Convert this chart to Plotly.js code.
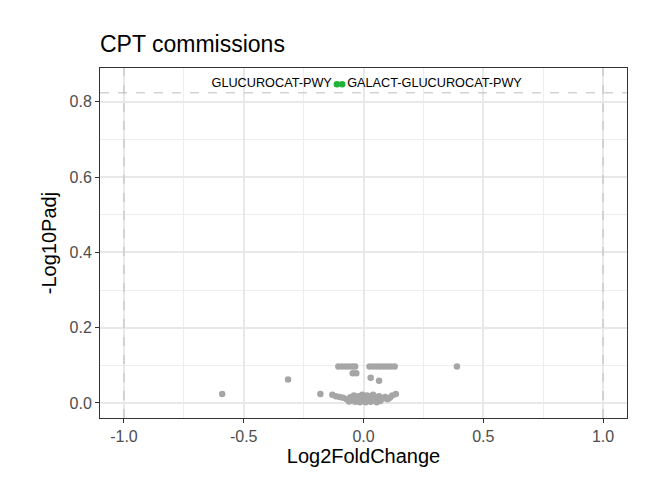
<!DOCTYPE html>
<html>
<head>
<meta charset="utf-8">
<script src="https://cdn.plot.ly/plotly-3.0.1.min.js"></script>
<style>
  body { margin: 0; padding: 0; background: #fff; }
  #plot { width: 661px; height: 501px; }
</style>
</head>
<body>
<div id="plot"></div>
<script>
// not significant pathways (grey)
var nsFold = [-0.59, -0.315, -0.18, 0.39,
  -0.105, -0.09, -0.075, -0.06, -0.045, -0.035,
  0.025, 0.04, 0.055, 0.07, 0.085, 0.1, 0.115, 0.13,
  -0.045, -0.03, 0.03, 0.065,
  -0.13, -0.115, -0.10, -0.085, -0.07, -0.06, -0.055, -0.045, -0.04, -0.035,
  -0.03, -0.025, -0.02, -0.015, -0.01, -0.005, 0.0, 0.005, 0.01, 0.015,
  0.02, 0.025, 0.03, 0.035, 0.04, 0.045, 0.05, 0.055, 0.06, 0.065,
  0.07, 0.08, 0.09, 0.1, 0.11, 0.12, 0.135];
var nsPadj = [0.024, 0.062, 0.024, 0.097,
  0.097, 0.097, 0.097, 0.097, 0.097, 0.097,
  0.097, 0.097, 0.097, 0.097, 0.097, 0.097, 0.097, 0.097,
  0.079, 0.079, 0.067, 0.059,
  0.022, 0.018, 0.016, 0.014, 0.010, 0.004, 0.015, 0.008, 0.020, 0.003,
  0.012, 0.006, 0.018, 0.002, 0.010, 0.022, 0.005, 0.014, 0.002, 0.020,
  0.008, 0.016, 0.003, 0.011, 0.022, 0.006, 0.015, 0.002, 0.010, 0.018,
  0.005, 0.012, 0.016, 0.010, 0.014, 0.020, 0.024];

// significant pathways (green, labelled)
var sigNames = ["GLUCUROCAT-PWY", "GALACT-GLUCUROCAT-PWY"];
var sigFold = [-0.111, -0.089];
var sigPadj = [0.847, 0.847];
var sigPos = ["middle left", "middle right"];

var fcCut = [-1, 1];
var padjCut = 0.824;

var xTicks = [-1, -0.5, 0, 0.5, 1];
var xLabels = ["-1.0", "-0.5", "0.0", "0.5", "1.0"];
var yTicks = [0, 0.2, 0.4, 0.6, 0.8];
var yLabels = ["0.0", "0.2", "0.4", "0.6", "0.8"];

var trace1 = {
  x: nsFold,
  y: nsPadj,
  mode: "markers",
  type: "scatter",
  marker: { color: "#a6a6a6", size: 6.5 },
  hoverinfo: "x+y"
};

var trace2 = {
  x: sigFold,
  y: sigPadj,
  text: sigNames,
  mode: "markers+text",
  type: "scatter",
  textposition: sigPos,
  textfont: { size: 12.7, color: "#000" },
  marker: { color: "#1fb33a", size: 6.5 }
};

var data = [trace1, trace2];

// dashed cut-off lines
var shapes = fcCut.map(function(v) {
  return {
    type: "line", xref: "x", yref: "paper", x0: v, x1: v, y0: 0, y1: 1,
    line: { color: "#bdbdbd", width: 1, dash: "dash" }
  };
});
shapes.push({
  type: "line", xref: "paper", yref: "y", x0: 0, x1: 1, y0: padjCut, y1: padjCut,
  line: { color: "#bdbdbd", width: 1, dash: "dash" }
});

var axisStyle = {
  showline: true,
  mirror: true,
  linecolor: "#333333",
  linewidth: 1,
  ticks: "outside",
  ticklen: 4,
  tickwidth: 1,
  tickcolor: "#333333",
  tickfont: { size: 16, color: "#4d4d4d" },
  showgrid: true,
  gridcolor: "#e8e8e8",
  gridwidth: 1.5,
  zeroline: false
};

var layout = {
  width: 661,
  height: 501,
  font: { family: "Liberation Sans, Arial, sans-serif", color: "#000" },
  paper_bgcolor: "#ffffff",
  plot_bgcolor: "#ffffff",
  showlegend: false,
  margin: { l: 100, r: 34, t: 68, b: 83 },
  title: {
    text: "CPT commissions",
    font: { size: 23, color: "#000" },
    x: 100 / 661,
    xanchor: "left",
    yref: "container",
    y: 1 - 44 / 501,
    yanchor: "middle"
  },
  xaxis: Object.assign({}, axisStyle, {
    range: [-1.1, 1.1],
    tickvals: xTicks,
    ticktext: xLabels,
    minor: { dtick: 0.25, tick0: 0, showgrid: true, gridcolor: "#eeeeee", gridwidth: 0.8 },
    title: { text: "Log2FoldChange", font: { size: 20, color: "#000" }, standoff: 4 }
  }),
  yaxis: Object.assign({}, axisStyle, {
    range: [-0.04, 0.89],
    tickvals: yTicks,
    ticktext: yLabels,
    minor: { dtick: 0.1, tick0: 0, showgrid: true, gridcolor: "#eeeeee", gridwidth: 0.8 },
    title: { text: "-Log10Padj", font: { size: 20, color: "#000" }, standoff: 7 }
  }),
  shapes: shapes
};

Plotly.newPlot("plot", data, layout, { displayModeBar: false });
</script>
</body>
</html>
